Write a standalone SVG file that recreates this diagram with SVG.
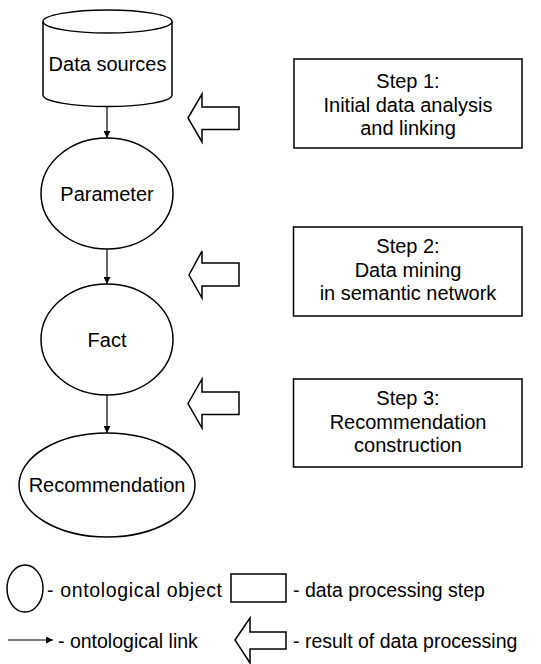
<svg xmlns="http://www.w3.org/2000/svg" width="541" height="664" viewBox="0 0 541 664">
<defs>
<style>
.s{fill:#fff;stroke:#000;stroke-width:1.5}
.t{font-family:"Liberation Sans",Arial,sans-serif;font-size:20px;fill:#000;text-anchor:middle}
.l{font-family:"Liberation Sans",Arial,sans-serif;font-size:19.5px;fill:#000}
.c{fill:none;stroke:#000;stroke-width:1.2}
</style>
<marker id="ah" viewBox="0 0 10 10" refX="10" refY="5" markerWidth="7" markerHeight="7" markerUnits="userSpaceOnUse" orient="auto">
<path d="M0,0 L10,5 L0,10 z" fill="#000"/>
</marker>
</defs>
<rect width="541" height="664" fill="#fff"/>
<g id="data-sources">
<path class="s" d="M43,21.5 L43,95 A64.5,11.5 0 0 0 172,95 L172,21.5"/>
<ellipse class="s" cx="107.5" cy="21.5" rx="64.5" ry="11.5"/>
<text class="t" x="107.5" y="71">Data sources</text>
</g>
<g id="parameter">
<ellipse class="s" cx="107" cy="193.5" rx="66" ry="55.5"/>
<text class="t" x="107" y="201">Parameter</text>
</g>
<g id="fact">
<ellipse class="s" cx="107" cy="339.5" rx="66" ry="55.5"/>
<text class="t" x="107" y="347">Fact</text>
</g>
<g id="recommendation">
<ellipse class="s" cx="107" cy="485" rx="88" ry="52"/>
<text class="t" x="107" y="492">Recommendation</text>
</g>
<g id="step1">
<rect class="s" x="294" y="59" width="228" height="89"/>
<text class="t" x="408" y="88">Step 1:</text>
<text class="t" x="408" y="112">Initial data analysis</text>
<text class="t" x="408" y="135">and linking</text>
</g>
<g id="step2">
<rect class="s" x="293.5" y="227" width="228.5" height="89"/>
<text class="t" x="408" y="253">Step 2:</text>
<text class="t" x="408" y="277">Data mining</text>
<text class="t" x="408" y="300">in semantic network</text>
</g>
<g id="step3">
<rect class="s" x="293.5" y="379" width="228.5" height="88"/>
<text class="t" x="408" y="405">Step 3:</text>
<text class="t" x="408" y="429">Recommendation</text>
<text class="t" x="408" y="452">construction</text>
</g>
<g id="result1">
<path class="s" d="M188,118 L202,94 L202,107 L239,107 L239,129.5 L202,129.5 L202,142 Z"/>
</g>
<g id="result2">
<path class="s" d="M189,275 L202,251 L202,263 L239,263 L239,286 L202,286 L202,298 Z"/>
</g>
<g id="result3">
<path class="s" d="M188,403.5 L202,379 L202,392 L239,392 L239,414.5 L202,414.5 L202,428 Z"/>
</g>
<g id="connectors">
<line class="c" x1="107" y1="106.5" x2="107" y2="138" marker-end="url(#ah)"/>
<line class="c" x1="107" y1="249" x2="107" y2="284" marker-end="url(#ah)"/>
<line class="c" x1="107" y1="395" x2="107" y2="433" marker-end="url(#ah)"/>
</g>
<g id="legend">
<ellipse class="s" cx="25" cy="588.5" rx="18" ry="23.5"/>
<text class="l" x="47" y="597" textLength="175" lengthAdjust="spacing">- ontological object</text>
<rect class="s" x="231" y="574" width="55" height="28"/>
<text class="l" x="293" y="597">- data processing step</text>
<line class="c" x1="8" y1="640" x2="53" y2="640" marker-end="url(#ah)"/>
<text class="l" x="58" y="648">- ontological link</text>
<path class="s" d="M235,640 L250,618 L250,632 L286,632 L286,649 L250,649 L250,663 Z"/>
<text class="l" x="293" y="648">- result of data processing</text>
</g>
</svg>
